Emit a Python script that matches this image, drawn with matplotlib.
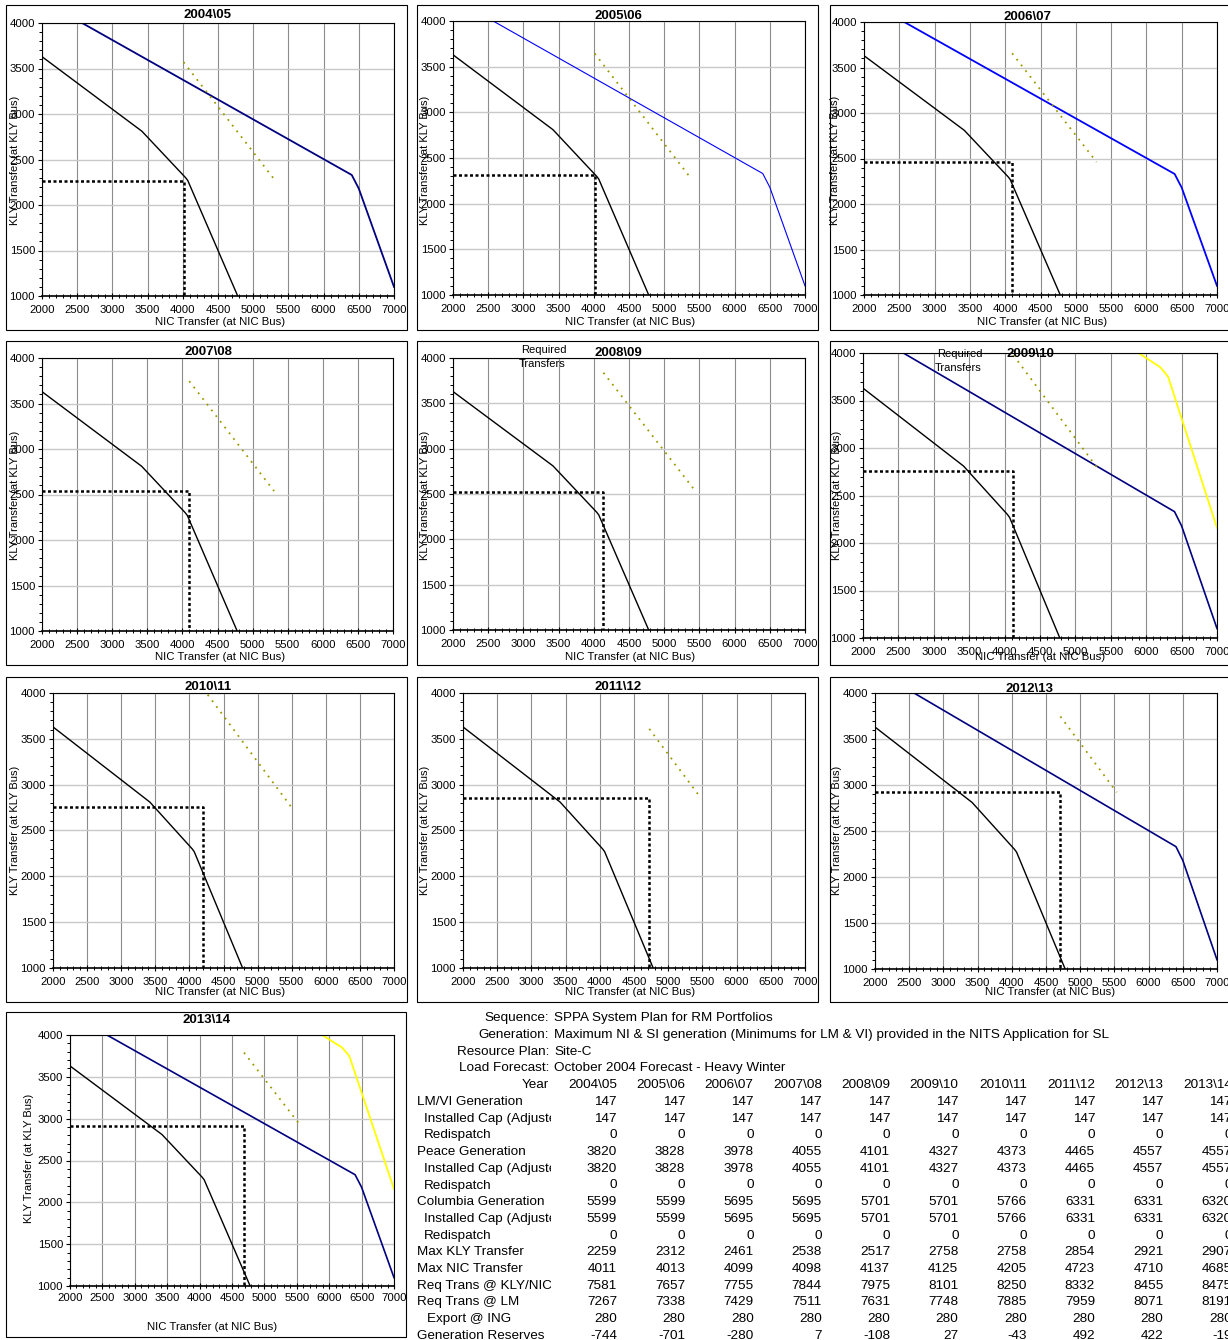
import matplotlib
matplotlib.use("Agg")
import matplotlib.pyplot as plt
from matplotlib.patches import Rectangle
from matplotlib.transforms import Bbox
from matplotlib.ticker import MultipleLocator

plt.rcParams['font.family'] = ['Liberation Sans', 'DejaVu Sans']

W, H = 1228, 1340

years = ['2004\\05', '2005\\06', '2006\\07', '2007\\08', '2008\\09',
         '2009\\10', '2010\\11', '2011\\12', '2012\\13', '2013\\14']

# limit curves (NIC transfer, KLY transfer)
stab_x = [2000, 3420, 4040, 4070, 4780]
stab_y = [3630, 2810, 2300, 2270, 1000]
therm_x = [2570, 6400, 6500, 7000]
therm_y = [4000, 2330, 2180, 1100]
yel_x = [5890, 6200, 6310, 7000]
yel_y = [4000, 3850, 3750, 2160]

# table values
lmvi_gen = [147, 147, 147, 147, 147, 147, 147, 147, 147, 147]
lmvi_cap = [147, 147, 147, 147, 147, 147, 147, 147, 147, 147]
lmvi_redisp = [0, 0, 0, 0, 0, 0, 0, 0, 0, 0]
peace_gen = [3820, 3828, 3978, 4055, 4101, 4327, 4373, 4465, 4557, 4557]
peace_cap = [3820, 3828, 3978, 4055, 4101, 4327, 4373, 4465, 4557, 4557]
peace_redisp = [0, 0, 0, 0, 0, 0, 0, 0, 0, 0]
columbia_gen = [5599, 5599, 5695, 5695, 5701, 5701, 5766, 6331, 6331, 6320]
columbia_cap = [5599, 5599, 5695, 5695, 5701, 5701, 5766, 6331, 6331, 6320]
columbia_redisp = [0, 0, 0, 0, 0, 0, 0, 0, 0, 0]
max_kly = [2259, 2312, 2461, 2538, 2517, 2758, 2758, 2854, 2921, 2907]
max_nic = [4011, 4013, 4099, 4098, 4137, 4125, 4205, 4723, 4710, 4685]
req_kly_nic = [7581, 7657, 7755, 7844, 7975, 8101, 8250, 8332, 8455, 8475]
req_lm = [7267, 7338, 7429, 7511, 7631, 7748, 7885, 7959, 8071, 8191]
export_ing = [280, 280, 280, 280, 280, 280, 280, 280, 280, 280]
gen_reserves = [-744, -701, -280, 7, -108, 27, -43, 492, 422, -19]

# required transfer segments
req_x0 = [4011, 4013, 4099, 4098, 4137, 4125, 4205, 4723, 4710, 4685]
req_y0 = [3570, 3644, 3656, 3746, 3838, 3976, 4045, 3609, 3745, 3790]
req_x1 = [5322, 5345, 5294, 5306, 5458, 5343, 5492, 5478, 5534, 5568]
req_y1 = [2259, 2312, 2461, 2538, 2517, 2758, 2758, 2854, 2921, 2907]

blue_col = ['#000080', '#0000FF', '#0000FF', None, None,
            '#000080', None, None, '#000080', '#000080']
blue_lw = [1.3, 0.8, 1.3, 0, 0, 1.2, 0, 0, 1.2, 1.2]
show_yellow = [False, False, False, False, False, True, False, False, False, True]

# layout in pixels
axes_px = [(42, 394, 23, 296), (453, 805, 21, 295), (864, 1217, 22, 295),
           (42, 393, 358, 631), (453, 805, 358, 630), (863, 1217, 353, 638),
           (53, 394, 693, 968), (463, 805, 693, 968), (875, 1217, 693, 969),
           (70, 394, 1035, 1286)]
frame_px = [(6, 5, 407, 330), (417, 5, 818, 330), (830, 5, 1240, 330),
            (6, 341, 407, 665), (417, 341, 818, 665), (830, 341, 1240, 665),
            (6, 677, 407, 1002), (417, 677, 818, 1002), (830, 677, 1240, 1002),
            (6, 1012, 406, 1337)]
title_px = [(208, 15), (618, 16), (1028, 17), (208, 352), (618, 353), (1030, 354),
            (208, 687), (618, 687), (1030, 689), (207, 1020)]
xlab_px = [(220, 322), (630, 322), (1042, 322), (220, 657), (630, 657), (1040, 657),
           (220, 992), (630, 992), (1050, 992), (212, 1327)]
ylab_px = [(15, 160), (425, 160), (835, 160), (15, 495), (425, 495), (837, 495),
           (15, 830), (425, 830), (837, 830), (29, 1158)]
xpad = [4, 4, 4, 4, 4, 4, 4, 4, 4, 2.5]


def fx(x):
    return x / W


def fy(y):
    return 1 - y / H


fig = plt.figure(figsize=(W / 100, H / 100), dpi=100)
fig.patch.set_facecolor('white')

for i, yr in enumerate(years):
    l, r, t, b = axes_px[i]
    ax = fig.add_axes([fx(l), fy(b), (r - l) / W, (b - t) / H])
    ax.set_xlim(2000, 7000)
    ax.set_ylim(1000, 4000)
    ax.xaxis.set_major_locator(MultipleLocator(500))
    ax.xaxis.set_minor_locator(MultipleLocator(100))
    ax.yaxis.set_major_locator(MultipleLocator(500))
    ax.yaxis.set_minor_locator(MultipleLocator(100))
    ax.set_axisbelow(True)
    ax.xaxis.grid(True, which='major', color='#8c8c8c', lw=0.8)
    ax.yaxis.grid(True, which='major', color='#c8c8c8', lw=1.0)
    for s in ax.spines.values():
        s.set_color('black')
        s.set_linewidth(0.8)
    ax.spines['bottom'].set_linewidth(1.2)
    ax.tick_params(axis='x', which='major', direction='inout', length=5, width=0.8,
                   labelsize=8.2, pad=xpad[i])
    ax.tick_params(axis='x', which='minor', direction='inout', length=3, width=0.7)
    ax.tick_params(axis='y', which='major', direction='out', length=3, width=0.8,
                   labelsize=8.2, pad=2)
    ax.tick_params(axis='y', which='minor', direction='out', length=2, width=0.7)

    ax.plot(stab_x, stab_y, color='black', lw=1.0)
    if blue_col[i]:
        ax.plot(therm_x, therm_y, color=blue_col[i], lw=blue_lw[i])
    if show_yellow[i]:
        ax.plot(yel_x, yel_y, color='#FFFF00', lw=1.3)
    ax.plot([req_x0[i], req_x1[i]], [req_y0[i], req_y1[i]], color='#9a9a00',
            lw=1.3, linestyle=(0, (1, 3)))
    ax.plot([2000, max_nic[i], max_nic[i]], [max_kly[i], max_kly[i], 1000],
            color='black', lw=1.8, linestyle=(0, (1.2, 1.0)))

    fr = frame_px[i]
    fig.add_artist(Rectangle((fx(fr[0]), fy(fr[3])), (fr[2] - fr[0]) / W,
                             (fr[3] - fr[1]) / H, transform=fig.transFigure,
                             fill=False, ec='black', lw=0.8))
    fig.text(fx(title_px[i][0]), fy(title_px[i][1]), yr, ha='center', va='center',
             fontsize=9.5, fontweight='bold')
    fig.text(fx(xlab_px[i][0]), fy(xlab_px[i][1]), 'NIC Transfer (at NIC Bus)',
             ha='center', va='center', fontsize=8.2)
    fig.text(fx(ylab_px[i][0]), fy(ylab_px[i][1]), 'KLY Transfer (at KLY Bus)',
             ha='center', va='center', fontsize=8, rotation=90)

# "Required Transfers" notes
for (x, y) in [(544, 350), (960, 354)]:
    fig.text(fx(x), fy(y), 'Required', ha='center', va='center', fontsize=8)
    fig.text(fx(x - 2), fy(y + 14), 'Transfers', ha='center', va='center', fontsize=8)

# table
fs = 9.7
head_lab = ['Sequence:', 'Generation:', 'Resource Plan:', 'Load Forecast:']
head_val = ['SPPA System Plan for RM Portfolios',
            'Maximum NI & SI generation (Minimums for LM & VI) provided in the NITS Application for SL',
            'Site-C', 'October 2004 Forecast - Heavy Winter']
head_y = [1018, 1035, 1052, 1068]
for lab, val, y in zip(head_lab, head_val, head_y):
    fig.text(fx(549), fy(y), lab, ha='right', va='center', fontsize=fs)
    fig.text(fx(554), fy(y), val, ha='left', va='center', fontsize=fs)

col_x = [617 + 68.3 * k for k in range(10)]
fig.text(fx(549), fy(1085), 'Year', ha='right', va='center', fontsize=fs)
for k, yr in enumerate(years):
    fig.text(fx(col_x[k]), fy(1085), yr, ha='right', va='center', fontsize=fs)

rows = [('LM/VI Generation', 0, lmvi_gen), ('Installed Cap (Adjusted)', 1, lmvi_cap),
        ('Redispatch', 1, lmvi_redisp), ('Peace Generation', 0, peace_gen),
        ('Installed Cap (Adjusted)', 1, peace_cap), ('Redispatch', 1, peace_redisp),
        ('Columbia Generation', 0, columbia_gen),
        ('Installed Cap (Adjusted)', 1, columbia_cap),
        ('Redispatch', 1, columbia_redisp), ('Max KLY Transfer', 0, max_kly),
        ('Max NIC Transfer', 0, max_nic), ('Req Trans @ KLY/NIC', 0, req_kly_nic),
        ('Req Trans @ LM', 0, req_lm), ('Export @ ING', 2, export_ing),
        ('Generation Reserves', 0, gen_reserves)]
clip = Bbox([[0, 0], [551, H]])
for j, (lab, ind, vals) in enumerate(rows):
    y = 1102 + 16.7 * j
    t = fig.text(fx(417 + [0, 7, 10][ind]), fy(y), lab, ha='left', va='center',
                 fontsize=fs)
    t.set_clip_box(clip)
    for k, v in enumerate(vals):
        fig.text(fx(col_x[k]), fy(y), str(v), ha='right', va='center', fontsize=fs)

fig.savefig('out.png', dpi=100)
